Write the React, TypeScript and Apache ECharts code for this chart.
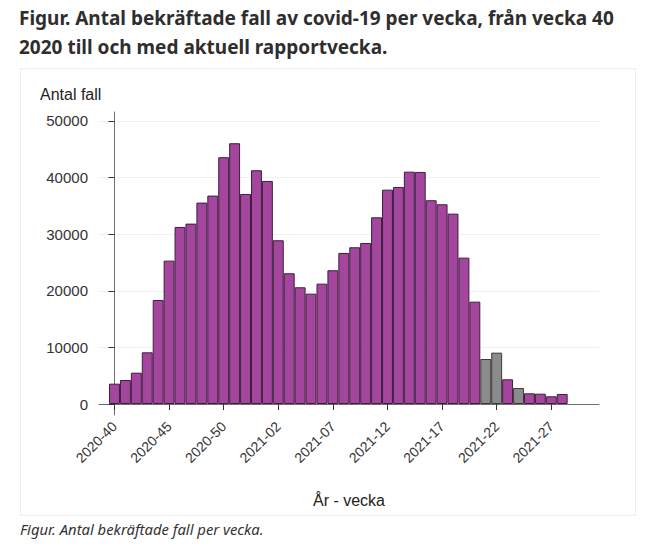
import React, { useEffect, useRef } from 'react';
import * as echarts from 'echarts';

const weeks = [
  '2020-40', '2020-41', '2020-42', '2020-43', '2020-44', '2020-45', '2020-46',
  '2020-47', '2020-48', '2020-49', '2020-50', '2020-51', '2020-52', '2020-53',
  '2021-01', '2021-02', '2021-03', '2021-04', '2021-05', '2021-06', '2021-07',
  '2021-08', '2021-09', '2021-10', '2021-11', '2021-12', '2021-13', '2021-14',
  '2021-15', '2021-16', '2021-17', '2021-18', '2021-19', '2021-20', '2021-21',
  '2021-22', '2021-23', '2021-24', '2021-25', '2021-26', '2021-27', '2021-28',
];

const cases = [
  3590, 4240, 5530, 9130, 18380, 25330, 31280,
  31870, 35580, 36820, 43600, 46070, 37110, 41300,
  39410, 28930, 23100, 20620, 19500, 21260, 23630,
  26690, 27690, 28450, 32990, 37870, 38350, 41050,
  41000, 36000, 35290, 33630, 25860, 18080, 7950,
  9070, 4360, 2830, 1890, 1820, 1360, 1770,
];

const grayWeeks = ['2021-21', '2021-22', '2021-24'];

const xTickLabels = ['2020-40', '2020-45', '2020-50', '2021-02', '2021-07', '2021-12', '2021-17', '2021-22', '2021-27'];
const yTickValues = [0, 10000, 20000, 30000, 40000, 50000];

const PURPLE = '#a4469e';
const PURPLE_BORDER = '#3e1d3c';
const GRAY = '#8b8b8b';
const GRAY_BORDER = '#3a3a3a';
const AXIS = '#6f6f6f';
const FONT = '"Liberation Sans", Arial, sans-serif';

export default function App() {
  const ref = useRef<HTMLDivElement>(null);

  useEffect(() => {
    if (!ref.current) return;
    const chart = echarts.init(ref.current, undefined, { renderer: 'svg' });
    const xTicks = xTickLabels.map((l) => weeks.indexOf(l));

    chart.setOption({
      animation: false,
      backgroundColor: '#ffffff',
      title: {
        text: 'Figur. Antal bekräftade fall av covid-19 per vecka, från vecka 40\n2020 till och med aktuell rapportvecka.',
        left: 19,
        top: 3,
        padding: 0,
        textStyle: {
          fontFamily: '"Noto Sans", sans-serif',
          fontWeight: 'bold',
          fontSize: 19,
          lineHeight: 29,
          color: '#2e2e2e',
        },
      },
      graphic: [
        {
          type: 'rect',
          z: -10,
          shape: { x: 20.5, y: 68.5, width: 615, height: 447 },
          style: { fill: 'none', stroke: '#eeeeee', lineWidth: 1 },
        },
        {
          type: 'text',
          x: 40,
          y: 86,
          style: {
            text: 'Antal fall',
            fontFamily: FONT,
            fontSize: 16,
            fill: '#222222',
            verticalAlign: 'top',
          },
        },
        {
          type: 'text',
          x: 20,
          y: 521,
          style: {
            text: 'Figur. Antal bekräftade fall per vecka.',
            fontFamily: '"Noto Sans", sans-serif',
            fontStyle: 'italic',
            fontSize: 14.8,
            fill: '#333333',
            verticalAlign: 'top',
          },
        },
      ],
      grid: { left: 99, right: 52, top: 112, bottom: 133 },
      xAxis: {
        type: 'value',
        min: -1.42,
        max: 44.37,
        axisLine: { show: true, lineStyle: { color: AXIS, width: 1 } },
        axisTick: { show: true, customValues: xTicks, length: 6, lineStyle: { color: '#333333' } },
        axisLabel: {
          customValues: xTicks,
          rotate: 45,
          margin: 9,
          fontSize: 14,
          fontFamily: FONT,
          color: '#333333',
          formatter: (v: number) => weeks[Math.round(v)] ?? '',
        },
        splitLine: { show: false },
        name: 'År - vecka',
        nameLocation: 'middle',
        nameGap: 77,
        nameTextStyle: { fontSize: 16, fontFamily: FONT, color: '#222222' },
      },
      yAxis: {
        type: 'value',
        min: -1943,
        max: 51590,
        axisLine: { show: true, lineStyle: { color: AXIS, width: 1 } },
        axisTick: { show: true, customValues: yTickValues, length: 6, lineStyle: { color: '#333333' } },
        axisLabel: {
          customValues: yTickValues,
          margin: 11,
          fontSize: 15,
          fontFamily: FONT,
          color: '#333333',
          formatter: (v: number) => String(Math.round(v)),
        },
        splitLine: { show: true, lineStyle: { color: '#edf1f3', width: 1 } },
      },
      series: [
        {
          type: 'bar',
          barWidth: 10.92,
          data: weeks.map((w, i) => {
            const gray = grayWeeks.includes(w);
            return {
              value: [i, cases[i]],
              itemStyle: {
                color: gray ? GRAY : PURPLE,
                borderColor: gray ? GRAY_BORDER : PURPLE_BORDER,
                borderWidth: 1,
              },
            };
          }),
        },
      ],
    });

    return () => chart.dispose();
  }, []);

  return (
    <div
      ref={ref}
      style={{ position: 'fixed', left: 0, top: 0, width: 651, height: 548 }}
    />
  );
}
